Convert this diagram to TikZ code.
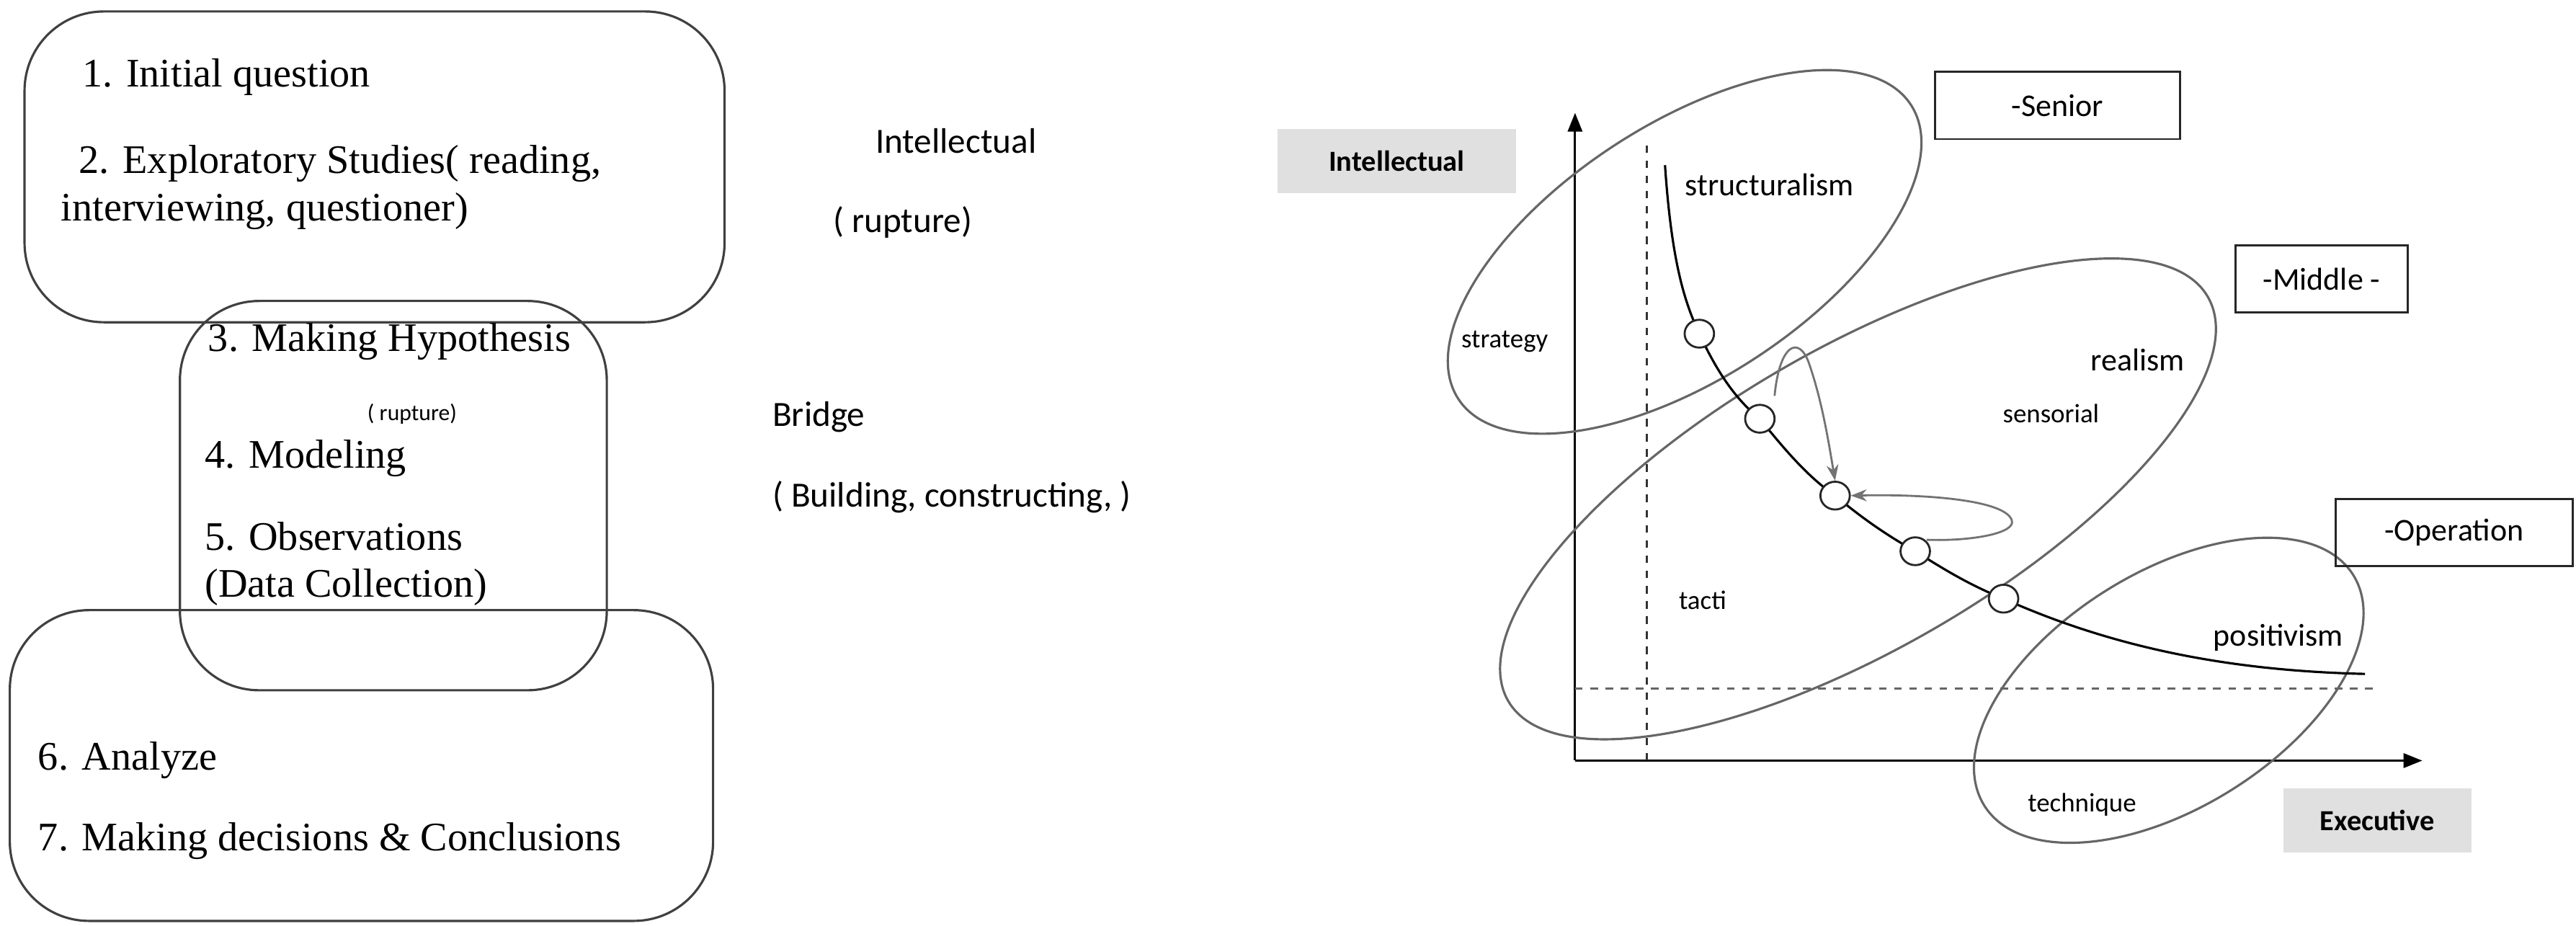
\documentclass[tikz,border=0pt]{standalone}
\usepackage{fontspec}
\setmainfont{Liberation Serif}
\newfontfamily\crlfont{Carlito}
\usetikzlibrary{arrows.meta,shapes.geometric}
\begin{document}
\begin{tikzpicture}[x=0.227mm,y=-0.227mm,
  box/.style={draw=black!75,line width=0.9pt,rounded corners=11mm},
  ser/.style={anchor=west,inner sep=0,font=\fontsize{16}{18}\selectfont},
  san/.style={anchor=west,inner sep=0,font=\crlfont\fontsize{14}{16}\selectfont},
  lab/.style={inner sep=0,font=\crlfont\fontsize{12.5}{14}\selectfont},
  sml/.style={inner sep=0,font=\crlfont\fontsize{10.5}{12}\selectfont},
  ell/.style={draw=black!60,line width=0.9pt},
  lvl/.style={draw=black!85,line width=0.8pt,minimum width=#1,minimum height=41*0.227mm,font=\crlfont\fontsize{12.5}{14}\selectfont},
  gl/.style={fill=black!12,minimum width=#1,minimum height=39*0.227mm,font=\crlfont\bfseries\fontsize{11.5}{13}\selectfont},
  dot/.style={draw=black!85,fill=white,ellipse,minimum width=18*0.227mm,minimum height=17*0.227mm,inner sep=0,line width=0.8pt},
  garr/.style={draw=black!55,line width=0.8pt,-{Stealth[length=2.2mm]}}]
\useasboundingbox (0,0) rectangle (1575,566);
% left
\draw[box] (15,7) rectangle (443,197);
\draw[box] (110,184) rectangle (371,422);
\draw[box] (6,373) rectangle (436,563);
\node[ser] (t1) at (50,47) {1. Initial question};
\node[ser] (t2) at (48,100) {2. Exploratory Studies( reading,};
\node[ser] (t2b) at (37,129) {interviewing, questioner)};
\node[ser] (t3) at (127,209) {3. Making Hypothesis};
\node[inner sep=0,font=\crlfont\fontsize{9}{10}\selectfont] (r1) at (252,253) {( rupture)};
\node[ser] (t4) at (125,280) {4. Modeling};
\node[ser] (t5) at (125,328) {5. Observations};
\node[ser] (t5b) at (125,359) {(Data Collection)};
\node[ser] (t6) at (23,465) {6. Analyze};
\node[ser] (t7) at (23,514) {7. Making decisions \& Conclusions};
\node[san] (i1) at (535,86) {Intellectual};
\node[san] (i2) at (509,136) {( rupture)};
\node[san] (b1) at (472,255) {Bridge};
\node[san] (b2) at (472,304) {( Building, constructing, )};
% right: axes
\draw[line width=0.9pt,-{Triangle[length=2.6mm,width=2mm]}] (963,465) -- (963,69);
\draw[line width=0.9pt,-{Triangle[length=2.6mm,width=2mm]}] (963,465) -- (1481,465);
\draw[dashed,black!80,line width=0.8pt] (1007,465) -- (1007,87);
\draw[dashed,black!60,line width=1pt] (963,421) -- (1452,421);
% ellipses
\draw[ell] (1030,154) ellipse[x radius=165,y radius=78,rotate=33];
\draw[ell] (1136,305) ellipse[x radius=247,y radius=92,rotate=30];
\draw[ell] (1326,422) ellipse[x radius=133,y radius=72,rotate=32];
% curve
\draw[line width=0.9pt] (1018,101) .. controls (1022,160) and (1030,185) .. (1039,204)
  .. controls (1050,228) and (1062,245) .. (1076,256)
  .. controls (1092,276) and (1106,292) .. (1122,303)
  .. controls (1140,318) and (1155,328) .. (1171,337)
  .. controls (1190,349) and (1205,358) .. (1225,366)
  .. controls (1290,395) and (1360,410) .. (1446,412);
\node[dot] (c1) at (1039,204) {};
\node[dot] (c2) at (1076,256) {};
\node[dot] (c3) at (1122,303) {};
\node[dot] (c4) at (1171,337) {};
\node[dot] (c5) at (1225,366) {};
\coordinate (a1) at (1085,242);
\coordinate (a2) at (1178,330);
\draw[garr] (a1) .. controls (1088,210) and (1100,205) .. (1106,222) .. controls (1114,245) and (1118,270) .. (c3.north);
\draw[garr] (a2) .. controls (1205,331) and (1233,326) .. (1230,318) .. controls (1226,306) and (1180,302) .. (c3.east);
% labels
\node[lab] (s1) at (1082,113) {structuralism};
\node[sml] (s2) at (920,209) {strategy};
\node[lab] (s3) at (1307,220) {realism};
\node[sml] (s4) at (1254,253) {sensorial};
\node[sml] (s5) at (1041,367) {tacti};
\node[lab] (s6) at (1393,390) {positivism};
\node[sml] (s7) at (1273,492) {technique};
\node[lvl=150*0.227mm] (l1) at (1258,64.5) {-Senior};
\node[lvl=105*0.227mm] (l2) at (1419.5,170.5) {-Middle -};
\node[lvl=145*0.227mm] (l3) at (1500.5,325.5) {-Operation};
\node[gl=146*0.227mm] (g1) at (854,98.5) {Intellectual};
\node[gl=115*0.227mm] (g2) at (1453.5,501.5) {Executive};
\end{tikzpicture}
\end{document}
